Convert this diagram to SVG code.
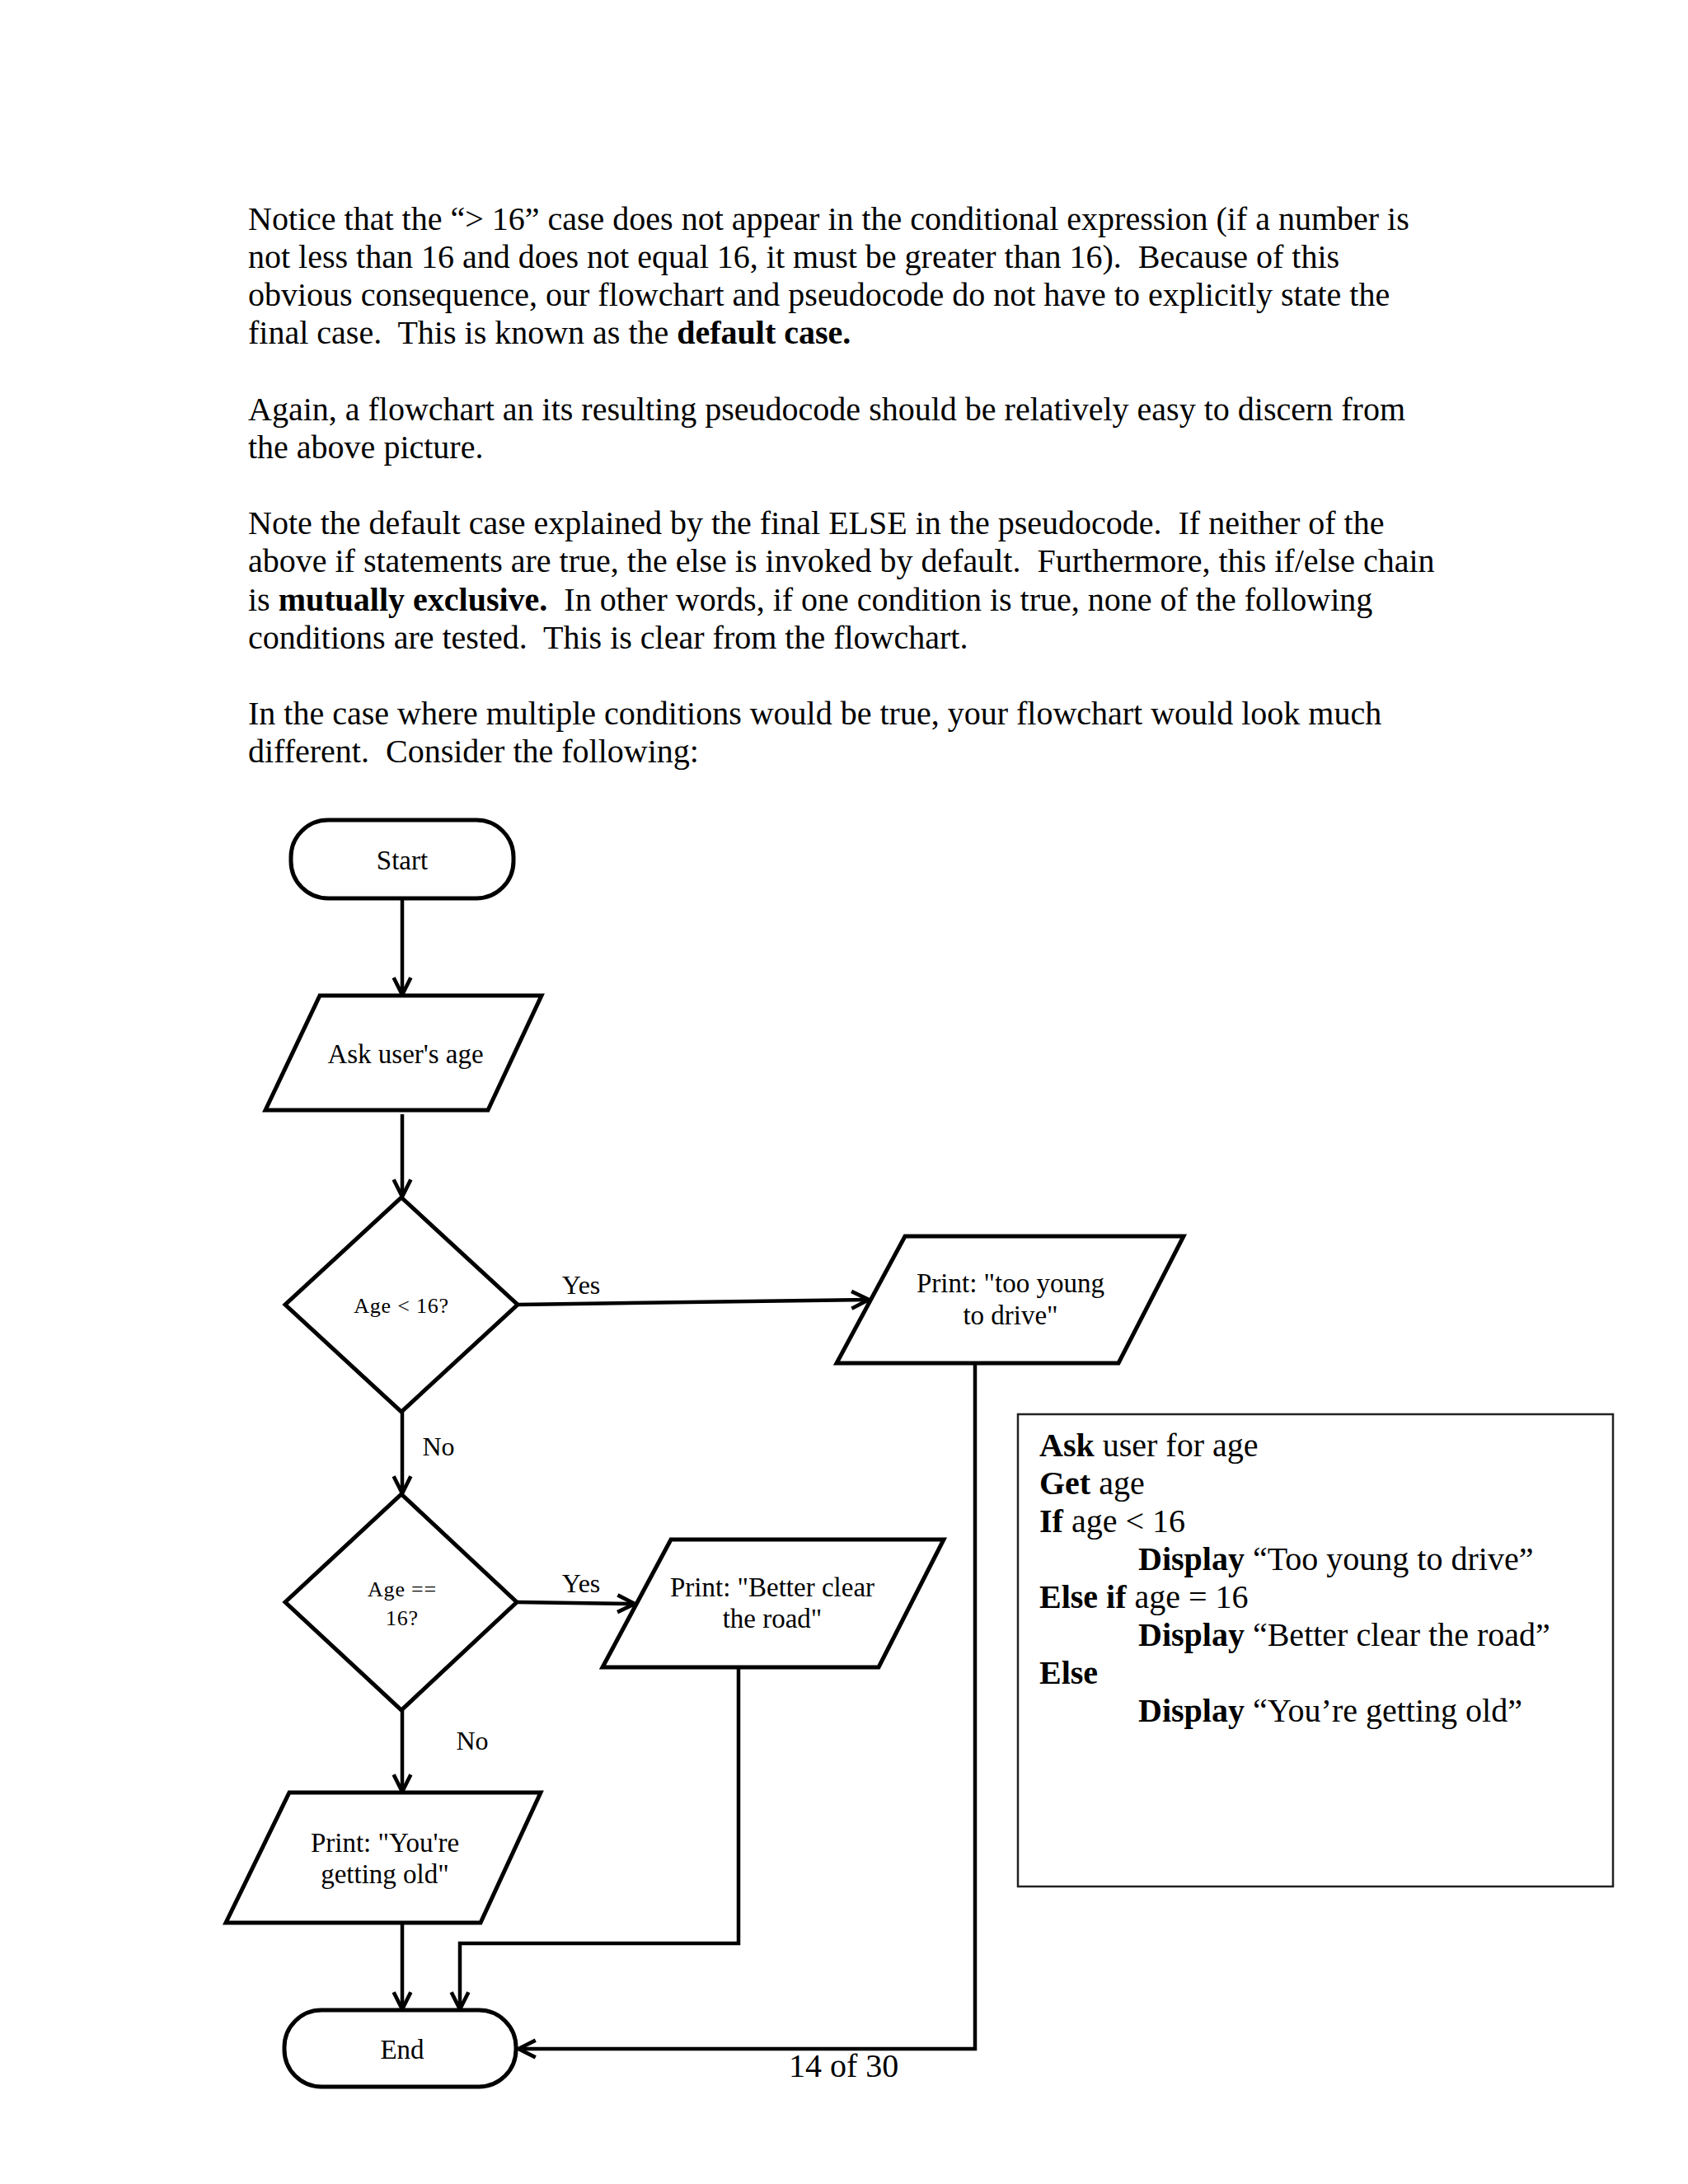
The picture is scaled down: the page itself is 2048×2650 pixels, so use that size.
<svg xmlns="http://www.w3.org/2000/svg" width="2048" height="2650" viewBox="0 0 2048 2650">
<defs>
<style>
.body{font-family:"Liberation Serif","Times New Roman",serif;font-size:40px;fill:#000;white-space:pre}
.b{font-weight:bold}
.lbl{font-family:"Liberation Serif","Times New Roman",serif;font-size:33px;fill:#000;text-anchor:middle}
.dlbl{font-family:"Liberation Serif","Times New Roman",serif;font-size:26px;fill:#000;text-anchor:middle;letter-spacing:0.8px}
.yn{font-family:"Liberation Serif","Times New Roman",serif;font-size:32px;fill:#000;text-anchor:middle}
.shape{fill:#fff;stroke:#000;stroke-width:5;stroke-linejoin:miter}
.conn{fill:none;stroke:#000;stroke-width:4.5;marker-end:url(#arr)}
</style>
<marker id="arr" markerUnits="userSpaceOnUse" markerWidth="30" markerHeight="30" viewBox="-22 -12 26 24" refX="0" refY="0" orient="auto">
<path d="M-18,-9 L0,0 L-18,9" fill="none" stroke="#000" stroke-width="4"/>
</marker>
</defs>
<rect width="2048" height="2650" fill="#fff"/>

<g id="text-body" xml:space="preserve">
<text class="body" x="301" y="279">Notice that the “&gt; 16” case does not appear in the conditional expression (if a number is</text>
<text class="body" x="301" y="325">not less than 16 and does not equal 16, it must be greater than 16).  Because of this</text>
<text class="body" x="301" y="371">obvious consequence, our flowchart and pseudocode do not have to explicitly state the</text>
<text class="body" x="301" y="417">final case.  This is known as the <tspan class="b">default case.</tspan></text>
<text class="body" x="301" y="510">Again, a flowchart an its resulting pseudocode should be relatively easy to discern from</text>
<text class="body" x="301" y="556">the above picture.</text>
<text class="body" x="301" y="648">Note the default case explained by the final ELSE in the pseudocode.  If neither of the</text>
<text class="body" x="301" y="694">above if statements are true, the else is invoked by default.  Furthermore, this if/else chain</text>
<text class="body" x="301" y="741">is <tspan class="b">mutually exclusive.</tspan>  In other words, if one condition is true, none of the following</text>
<text class="body" x="301" y="787">conditions are tested.  This is clear from the flowchart.</text>
<text class="body" x="301" y="879">In the case where multiple conditions would be true, your flowchart would look much</text>
<text class="body" x="301" y="925">different.  Consider the following:</text>
</g>

<g id="connectors">
<line class="conn" x1="488" y1="1090" x2="488" y2="1207"/>
<line class="conn" x1="488" y1="1352" x2="488" y2="1452"/>
<line class="conn" x1="629" y1="1583" x2="1054" y2="1577"/>
<line class="conn" x1="488" y1="1713" x2="488" y2="1812"/>
<line class="conn" x1="627" y1="1944" x2="770" y2="1946"/>
<line class="conn" x1="488" y1="2075" x2="488" y2="2174"/>
<line class="conn" x1="488" y1="2333" x2="488" y2="2438"/>
<path class="conn" d="M896,2023 L896,2358 L558,2358 L558,2438"/>
<path class="conn" d="M1183,1654 L1183,2486 L629,2486"/>
</g>

<g id="start">
<rect class="shape" x="353" y="995" width="270" height="95" rx="45" ry="45"/>
<text class="lbl" x="488" y="1055">Start</text>
</g>

<g id="ask-age">
<polygon class="shape" points="388,1208 657,1208 592,1347 322,1347"/>
<text class="lbl" x="492" y="1290">Ask user's age</text>
</g>

<g id="decision-lt16">
<polygon class="shape" points="487,1453 628,1583 487,1713 346,1583"/>
<text class="dlbl" x="487" y="1593">Age &lt; 16?</text>
</g>

<g id="print-too-young">
<polygon class="shape" points="1098,1500 1436,1500 1357,1654 1015,1654"/>
<text class="lbl" x="1226" y="1568">Print: "too young</text>
<text class="lbl" x="1226" y="1607">to drive"</text>
</g>

<g id="decision-eq16">
<polygon class="shape" points="487,1813 627,1944 487,2075 346,1944"/>
<text class="dlbl" x="488" y="1937">Age ==</text>
<text class="dlbl" x="488" y="1972">16?</text>
</g>

<g id="print-better-clear">
<polygon class="shape" points="814,1868 1145,1868 1066,2023 731,2023"/>
<text class="lbl" x="937" y="1937">Print: "Better clear</text>
<text class="lbl" x="937" y="1975">the road"</text>
</g>

<g id="print-getting-old">
<polygon class="shape" points="351,2175 656,2175 583,2333 274,2333"/>
<text class="lbl" x="467" y="2247">Print: "You're</text>
<text class="lbl" x="467" y="2285">getting old"</text>
</g>

<g id="end">
<rect class="shape" x="345" y="2439" width="281" height="93" rx="45" ry="45"/>
<text class="lbl" x="488" y="2498">End</text>
</g>

<g id="edge-labels">
<text class="yn" x="705" y="1570">Yes</text>
<text class="yn" x="532" y="1766">No</text>
<text class="yn" x="705" y="1932">Yes</text>
<text class="yn" x="573" y="2123">No</text>
</g>

<g id="pseudocode">
<rect x="1235" y="1716" width="722" height="573" fill="none" stroke="#222" stroke-width="2.5"/>
<text class="body" x="1261" y="1767"><tspan class="b">Ask</tspan> user for age</text>
<text class="body" x="1261" y="1813"><tspan class="b">Get</tspan> age</text>
<text class="body" x="1261" y="1859"><tspan class="b">If</tspan> age &lt; 16</text>
<text class="body" x="1381" y="1905"><tspan class="b">Display</tspan> “Too young to drive”</text>
<text class="body" x="1261" y="1951"><tspan class="b">Else if</tspan> age = 16</text>
<text class="body" x="1381" y="1997"><tspan class="b">Display</tspan> “Better clear the road”</text>
<text class="body" x="1261" y="2043"><tspan class="b">Else</tspan></text>
<text class="body" x="1381" y="2089"><tspan class="b">Display</tspan> “You’re getting old”</text>
</g>

<g id="footer">
<text class="body" x="957" y="2520" font-size="39">14 of 30</text>
</g>
</svg>
